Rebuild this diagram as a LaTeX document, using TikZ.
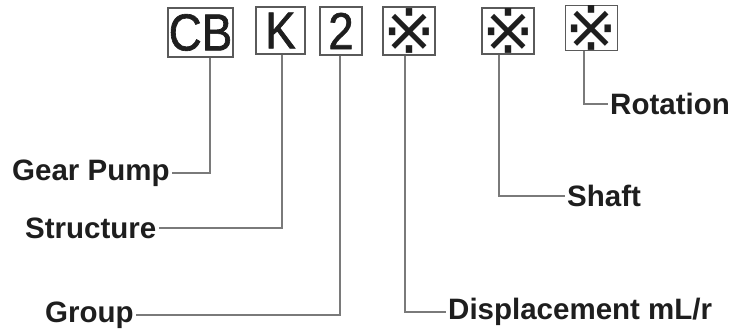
\documentclass[tikz,border=0pt]{standalone}
\usepackage{fontspec}
\setmainfont{Liberation Sans}
\newfontfamily\codefont[FakeStretch=0.88,FakeBold=1.2]{Liberation Sans}
\newfontfamily\markfont{DejaVu Sans}
\usetikzlibrary{positioning,calc}
\definecolor{BoxGray}{HTML}{5A5A5A}
\definecolor{LineGray}{HTML}{7A7A7A}
\definecolor{Ink}{HTML}{1E1E1E}

\begin{document}
\begin{tikzpicture}[x=1pt,y=-1pt,
  codebox/.style={draw=BoxGray,line width=1.4pt,inner sep=0pt,text=Ink,font=\codefont\fontsize{52}{52}\selectfont},
  markbox/.style={codebox,font=\markfont\fontsize{62}{62}\selectfont},
  tag/.style={inner sep=2pt,text=Ink,font=\bfseries\fontsize{29.5}{29.5}\selectfont},
  lead/.style={draw=LineGray,line width=1.3pt}]
  \useasboundingbox (0,0) rectangle (734,331);
  % code boxes
  \node[codebox,minimum width=65pt,minimum height=49pt] (bCB) at (200.5,32.5) {CB};
  \node[codebox,minimum width=49pt,minimum height=47pt] (bK) at (280.5,30.5) {K};
  \node[codebox,minimum width=42pt,minimum height=48pt] (b2) at (341,31) {2};
  \node[markbox,minimum width=50pt,minimum height=48pt] (bD) at (409,31) {※};
  \node[markbox,minimum width=52pt,minimum height=46pt] (bS) at (508,31) {※};
  \node[markbox,minimum width=47pt,minimum height=42pt] (bR) at (591.5,28) {※};
  % labels
  \node[tag,anchor=west] (gear) at (10,173) {Gear Pump};
  \node[tag,anchor=west] (struct) at (23,228) {Structure};
  \node[tag,anchor=west] (group) at (43,315) {Group};
  \node[tag,anchor=west] (disp) at (446,312) {Displacement mL/r};
  \node[tag,anchor=west] (shaft) at (565,196) {Shaft};
  \node[tag,anchor=west] (rot) at (608,104) {Rotation};
  % leaders
  \draw[lead] ([xshift=9.5pt]bCB.south) |- (gear.east);
  \draw[lead] ([xshift=1.5pt]bK.south) |- (struct.east);
  \draw[lead] ([xshift=-1pt]b2.south) |- (group.east);
  \draw[lead] ([xshift=-4pt]bD.south) |- (disp.west);
  \draw[lead] ([xshift=-9pt]bS.south) |- (shaft.west);
  \draw[lead] ([xshift=-7.5pt]bR.south) |- (rot.west);
\end{tikzpicture}
\end{document}
